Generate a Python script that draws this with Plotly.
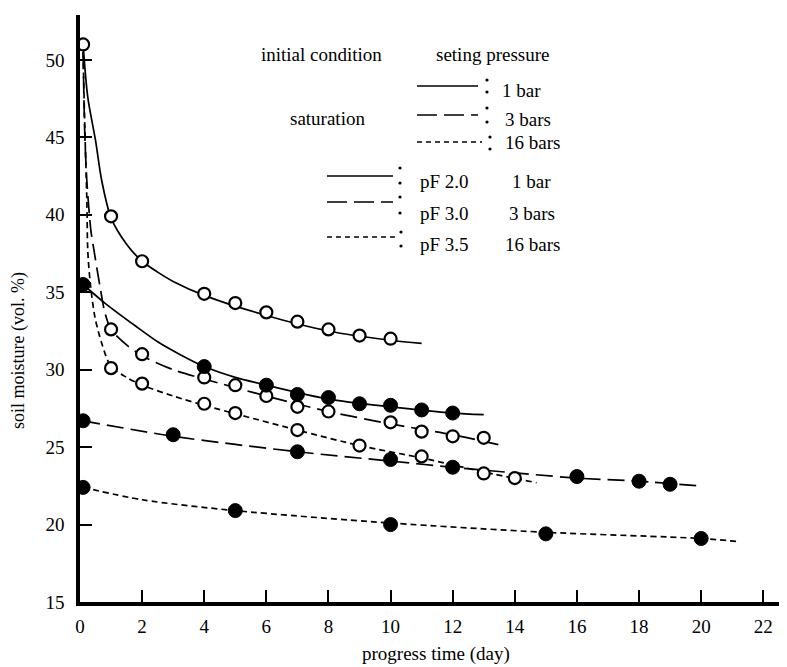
import plotly.graph_objects as go

# ---------------- data ----------------
# measured points: saturation initial condition (open circles)
sat1_day = [0.1, 1, 2, 4, 5, 6, 7, 8, 9, 10]
sat1_val = [51.0, 39.9, 37.0, 34.9, 34.3, 33.7, 33.1, 32.6, 32.2, 32.0]
sat3_day = [1, 2, 4, 5, 6, 7, 8, 10, 11, 12, 13]
sat3_val = [32.6, 31.0, 29.5, 29.0, 28.3, 27.6, 27.3, 26.6, 26.0, 25.7, 25.6]
sat16_day = [1, 2, 4, 5, 7, 9, 11, 13, 14]
sat16_val = [30.1, 29.1, 27.8, 27.2, 26.1, 25.1, 24.4, 23.3, 23.0]

# measured points: pF initial conditions (filled circles)
pf20_day = [0.1, 4, 6, 7, 8, 9, 10, 11, 12]
pf20_val = [35.5, 30.2, 29.0, 28.4, 28.2, 27.8, 27.7, 27.4, 27.2]
pf30_day = [0.1, 3, 7, 10, 12, 16, 18, 19]
pf30_val = [26.7, 25.8, 24.7, 24.2, 23.7, 23.1, 22.8, 22.6]
pf35_day = [0.1, 5, 10, 15, 20]
pf35_val = [22.4, 20.9, 20.0, 19.4, 19.1]

# fitted curves (knots)
sat1_curve_day = [0.1, 0.25, 0.5, 0.7, 1.0, 1.5, 2, 2.5, 3, 4, 6, 8, 10, 11]
sat1_curve_val = [51.0, 47.6, 44.8, 42.2, 39.8, 38.1, 37.0, 36.3, 35.7, 34.8, 33.5, 32.5, 31.9, 31.7]
sat3_curve_day = [0.1, 0.15, 0.22, 0.35, 0.45, 0.65, 0.8, 1.0, 1.5, 2, 3, 4, 6, 8, 10, 12, 13.6]
sat3_curve_val = [50.5, 45.5, 42.2, 39.0, 37.7, 35.3, 33.7, 32.6, 31.6, 30.9, 30.0, 29.4, 28.3, 27.3, 26.5, 25.8, 25.1]
sat16_curve_day = [0.1, 0.15, 0.22, 0.25, 0.33, 0.48, 0.7, 1.0, 1.5, 2, 3, 4, 7, 9, 11, 13, 14.7]
sat16_curve_val = [50.5, 46.0, 41.0, 37.7, 35.6, 33.4, 31.7, 30.2, 29.5, 29.0, 28.3, 27.7, 26.1, 25.1, 24.3, 23.4, 22.7]
pf20_curve_day = [0.1, 0.8, 1.8, 2.5, 3.2, 4, 5, 6, 8, 10, 12, 13]
pf20_curve_val = [35.5, 34.3, 32.8, 31.8, 31.0, 30.2, 29.5, 29.0, 28.1, 27.6, 27.2, 27.1]
pf30_curve_day = [0.1, 3, 7, 10, 12, 16, 18, 19.9]
pf30_curve_val = [26.7, 25.7, 24.7, 24.1, 23.7, 23.0, 22.8, 22.5]
pf35_curve_day = [0.1, 2, 5, 10, 15, 20, 21.2]
pf35_curve_val = [22.4, 21.6, 20.9, 20.1, 19.5, 19.1, 18.9]

x_ticks = [0, 2, 4, 6, 8, 10, 12, 14, 16, 18, 20, 22]
y_ticks = [15, 20, 25, 30, 35, 40, 45, 50]

# ---------------- styling ----------------
FONT = "Liberation Serif, Times New Roman, serif"
SOLID = "solid"
LONG = "17px,7px"
SHORT = "6px,4px"

fig = go.Figure()

curves = [
    (sat1_curve_day, sat1_curve_val, SOLID),
    (sat3_curve_day, sat3_curve_val, LONG),
    (sat16_curve_day, sat16_curve_val, SHORT),
    (pf20_curve_day, pf20_curve_val, SOLID),
    (pf30_curve_day, pf30_curve_val, LONG),
    (pf35_curve_day, pf35_curve_val, SHORT),
]
for cx, cy, dash in curves:
    fig.add_trace(go.Scatter(x=cx, y=cy, mode="lines",
                             line=dict(color="black", width=1.7, dash=dash, shape="spline", smoothing=0.8),
                             showlegend=False, hoverinfo="skip"))

for px, py in [(sat1_day, sat1_val), (sat3_day, sat3_val), (sat16_day, sat16_val)]:
    fig.add_trace(go.Scatter(x=px, y=py, mode="markers",
                             marker=dict(symbol="circle", size=12, color="white",
                                         line=dict(color="black", width=2.2)),
                             showlegend=False))
for px, py in [(pf20_day, pf20_val), (pf30_day, pf30_val), (pf35_day, pf35_val)]:
    fig.add_trace(go.Scatter(x=px, y=py, mode="markers",
                             marker=dict(symbol="circle", size=14, color="black",
                                         line=dict(color="black", width=1)),
                             showlegend=False))

# ---------------- layout ----------------
# the page has an 8px body margin, so the figure is drawn 8px smaller and offset
OFF = 8
W, H = 787 - OFF, 667 - OFF
L, R, T, B = 80 - OFF, 2, 15 - OFF, 65
pw, ph = W - L - R, H - T - B


def px2paper(x, y):
    # x, y given in the reference picture's pixels
    return (x - OFF - L) / pw, (H - B - (y - OFF)) / ph


fig.update_layout(
    width=W, height=H,
    margin=dict(l=L, r=R, t=T, b=B),
    paper_bgcolor="white", plot_bgcolor="white",
    font=dict(family=FONT, size=20, color="black"),
    xaxis=dict(range=[0, 22.7], tickvals=x_ticks, ticks="inside", ticklen=12, tickwidth=2,
               tickcolor="black", showline=True, linewidth=3.5, linecolor="black",
               showgrid=False, zeroline=False, ticklabelstandoff=4,
               tickfont=dict(family=FONT, size=19)),
    yaxis=dict(range=[15, 52.9], tickvals=y_ticks, ticks="inside", ticklen=12, tickwidth=2,
               tickcolor="black", showline=True, linewidth=3.5, linecolor="black",
               showgrid=False, zeroline=False, ticklabelstandoff=8,
               tickfont=dict(family=FONT, size=19)),
)

annotations = []


def text(s, x, y, anchor="left", size=19, angle=0):
    xp, yp = px2paper(x, y)
    annotations.append(dict(text=s, x=xp, y=yp, xref="paper", yref="paper",
                            xanchor=anchor, yanchor="middle", showarrow=False,
                            textangle=angle, font=dict(family=FONT, size=size, color="black")))


shapes = []


def seg(x0, x1, y, dash):
    a0, b0 = px2paper(x0, y)
    a1, _ = px2paper(x1, y)
    shapes.append(dict(type="line", xref="paper", yref="paper", x0=a0, x1=a1, y0=b0, y1=b0,
                       line=dict(color="black", width=1.7, dash=dash)))


def colon(x, y0, y1):
    for yy in (y0, y1):
        a, b = px2paper(x, yy)
        ra, rb = 1.6 / pw, 1.6 / ph
        shapes.append(dict(type="circle", xref="paper", yref="paper",
                           x0=a - ra, x1=a + ra, y0=b - rb, y1=b + rb,
                           fillcolor="black", line=dict(color="black", width=0)))


text("initial condition", 321, 54, anchor="center")
text("seting pressure", 493, 54, anchor="center")
text("saturation", 327, 118, anchor="center")

seg(417, 478, 86, SOLID); colon(487, 80, 92); text("1 bar", 500, 90)
seg(417, 478, 115, "20px,7px"); colon(487, 108, 122); text("3 bars", 503, 119)
seg(417, 482, 142, "5px,4px"); colon(490, 137, 149); text("16 bars", 503, 143)

seg(327, 393, 176, SOLID); colon(400, 168, 183); text("pF 2.0", 418, 181); text("1 bar", 510, 181)
seg(327, 393, 202, "20px,7px"); colon(400, 197, 213); text("pF 3.0", 418, 213); text("3 bars", 507, 213)
seg(327, 395, 237, "5px,4px"); colon(401, 232, 246); text("pF 3.5", 418, 245); text("16 bars", 503, 245)

text("soil moisture (vol. %)", 18, 351, anchor="center", size=18, angle=-90)
text("progress time (day)", 436, 654, anchor="center", size=19)

fig.update_layout(annotations=annotations, shapes=shapes)

fig.write_html("out.html")
